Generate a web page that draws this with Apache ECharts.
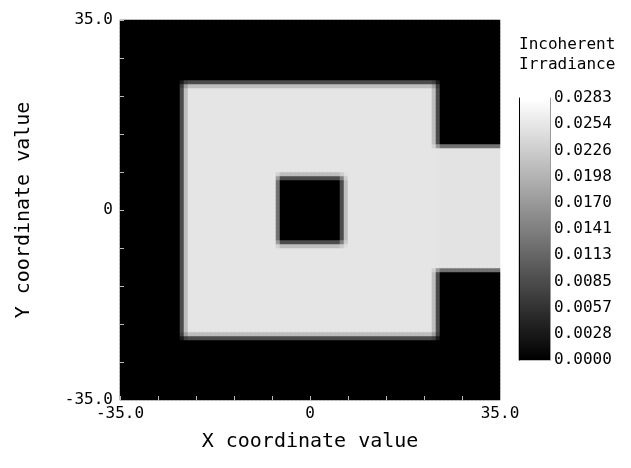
<!DOCTYPE html>
<html>
<head>
<meta charset="utf-8">
<script src="https://cdn.jsdelivr.net/npm/echarts@6/dist/echarts.min.js"></script>
<style>html,body{margin:0;padding:0;background:#fff;}#c{width:631px;height:468px;}</style>
</head>
<body>
<div id="c"></div>
<script>
// ---- data ----
const axisRange = [-35, 35];
const gridCells = 95;                        // cells per side
const xTickLabels = {'-35': '-35.0', '0': '0', '35': '35.0'};
const yTickLabels = {'-35': '-35.0', '0': '0', '35': '35.0'};
const colorMax = 0.02826;
const colorTickLabels = ['0.0000','0.0028','0.0057','0.0085','0.0113','0.0141','0.0170','0.0198','0.0226','0.0254','0.0283'];
// illuminated regions [x0, x1, y0, y1, level]
const mainSquare = [-23.4, 23.4, -23.4, 23.4, 0.0254];
const sideTab    = [23.4, 35.6, -11.1, 11.7, 0.0252];
// dark hole inside the main square
const centreHole = [-5.8, 6.1, -6.1, 6.1];
const edgeBlur = 0.75; // half width of the edge roll-off, in axis units

// ---- build heatmap cells ----
const cellSize = (axisRange[1] - axisRange[0]) / gridCells;
const centers = [];
for (let i = 0; i < gridCells; i++) centers.push(+(axisRange[0] + cellSize * (i + 0.5)).toFixed(3));

function inRect(r, x, y) { return x >= r[0] && x <= r[1] && y >= r[2] && y <= r[3]; }
function levelAt(x, y) {
  if (inRect(centreHole, x, y)) return 0;
  if (inRect(mainSquare, x, y)) return mainSquare[4];
  if (inRect(sideTab, x, y)) return sideTab[4];
  return 0;
}
const heat = [];
const S = 6;
for (let i = 0; i < gridCells; i++) {
  for (let j = 0; j < gridCells; j++) {
    let sum = 0;
    for (let a = 0; a < S; a++) for (let b = 0; b < S; b++) {
      const x = centers[i] + edgeBlur * (2 * (a + 0.5) / S - 1);
      const y = centers[j] + edgeBlur * (2 * (b + 0.5) / S - 1);
      sum += levelAt(x, y);
    }
    heat.push([i, j, sum / (S * S)]);
  }
}
const barSteps = 131;
const barCats = [], barData = [];
for (let k = 0; k < barSteps; k++) { barCats.push(k); barData.push([0, k, colorMax * k / (barSteps - 1)]); }

const font = 'DejaVu Sans Mono';
const chart = echarts.init(document.getElementById('c'), null, {renderer: 'canvas'});
chart.setOption({
  backgroundColor: '#fff',
  animation: false,
  textStyle: {fontFamily: font},
  title: {
    text: 'Incoherent\nIrradiance', left: 514, top: 30,
    textStyle: {fontFamily: font, fontSize: 16, fontWeight: 'normal', color: '#000', lineHeight: 20}
  },
  grid: [
    {left: 120, top: 20, width: 380, height: 380},
    {left: 519, top: 98, width: 31, height: 262}
  ],
  visualMap: {
    show: false, type: 'continuous', min: 0, max: colorMax, seriesIndex: [0, 1],
    inRange: {color: ['#000000', '#ffffff']}
  },
  xAxis: [
    {type: 'category', gridIndex: 0, data: centers, show: false, position: 'top'},
    {type: 'value', gridIndex: 0, position: 'bottom', min: axisRange[0], max: axisRange[1], interval: 7,
      axisLine: {show: false, onZero: false},
      axisTick: {show: true, inside: true, length: 4, lineStyle: {color: '#bbb'}},
      splitLine: {show: false},
      axisLabel: {fontFamily: font, fontSize: 16, color: '#000', margin: 6, showMinLabel: true, showMaxLabel: true,
        formatter: v => xTickLabels[String(Math.round(v))] || ''},
      name: 'X coordinate value', nameLocation: 'middle', nameGap: 32,
      nameTextStyle: {fontFamily: font, fontSize: 20, color: '#000'}, z: 5},
    {type: 'category', gridIndex: 1, data: ['c'], show: false}
  ],
  yAxis: [
    {type: 'category', gridIndex: 0, data: centers, show: false, position: 'right'},
    {type: 'value', gridIndex: 0, position: 'left', min: axisRange[0], max: axisRange[1], interval: 7,
      axisLine: {show: false, onZero: false},
      axisTick: {show: true, inside: true, length: 4, lineStyle: {color: '#bbb'}},
      splitLine: {show: false},
      axisLabel: {fontFamily: font, fontSize: 16, color: '#000', margin: 7, showMinLabel: true, showMaxLabel: true,
        formatter: v => yTickLabels[String(Math.round(v))] || ''},
      name: 'Y coordinate value', nameLocation: 'middle', nameGap: 86,
      nameTextStyle: {fontFamily: font, fontSize: 20, color: '#000'}, z: 5},
    {type: 'category', gridIndex: 1, data: barCats, position: 'left',
      axisLine: {show: true, lineStyle: {color: '#000', width: 1}}, axisTick: {show: false}, axisLabel: {show: false}, z: 5},
    {type: 'category', gridIndex: 1, data: colorTickLabels, boundaryGap: false, position: 'right',
      axisLine: {show: true, lineStyle: {color: '#999', width: 1}}, axisTick: {show: false},
      axisLabel: {fontFamily: font, fontSize: 16, color: '#000', margin: 4, interval: 0}, z: 5}
  ],
  series: [
    {type: 'heatmap', xAxisIndex: 0, yAxisIndex: 0, data: heat, progressive: 0, emphasis: {disabled: true}},
    {type: 'heatmap', xAxisIndex: 2, yAxisIndex: 2, data: barData, progressive: 0, emphasis: {disabled: true}}
  ]
});
</script>
</body>
</html>
